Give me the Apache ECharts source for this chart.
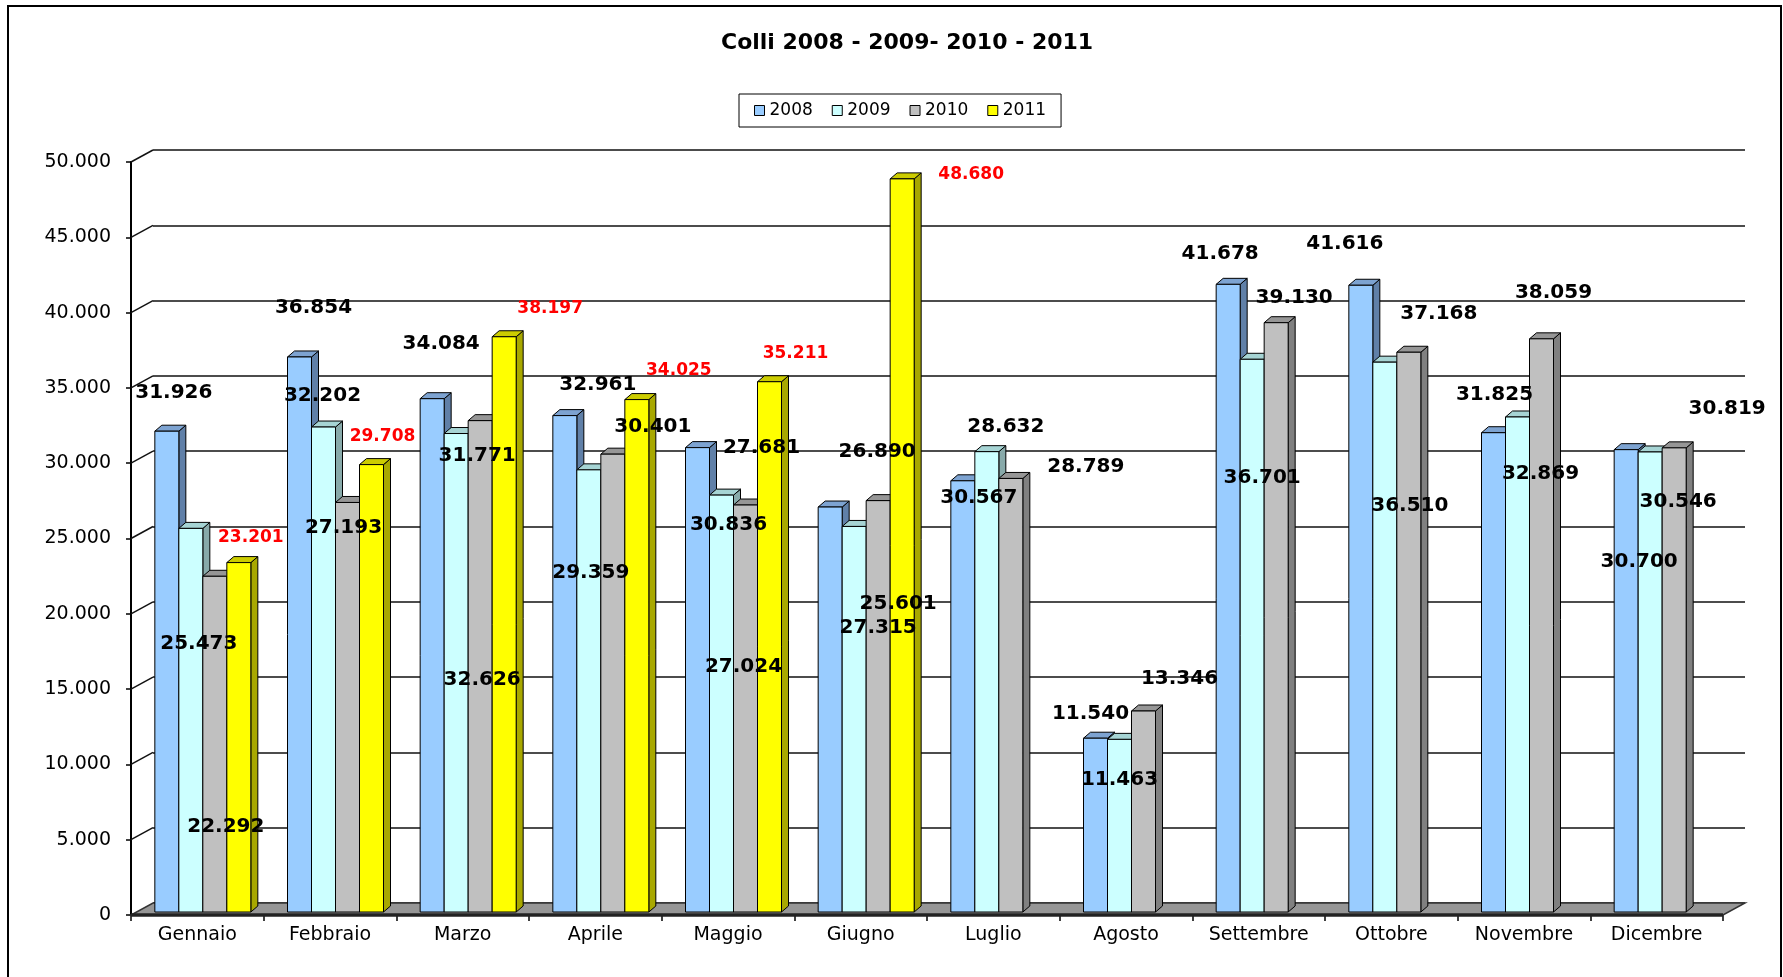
<!DOCTYPE html>
<html>
<head>
<meta charset="utf-8">
<script src="https://cdn.jsdelivr.net/npm/echarts@6.0.0/dist/echarts.min.js"></script>
<style>
html,body{margin:0;padding:0;background:#fff;}
#chart{width:1783px;height:977px;}
</style>
</head>
<body>
<div id="chart"></div>
<script>
// ---------------- DATA ----------------
const months = ['Gennaio','Febbraio','Marzo','Aprile','Maggio','Giugno','Luglio','Agosto','Settembre','Ottobre','Novembre','Dicembre'];
const seriesNames = ['2008','2009','2010','2011'];
const colli2008 = [31926, 36854, 34084, 32961, 30836, 26890, 28632, 11540, 41678, 41616, 31825, 30700];
const colli2009 = [25473, 32202, 31771, 29359, 27681, 25601, 30567, 11463, 36701, 36510, 32869, 30546];
const colli2010 = [22292, 27193, 32626, 30401, 27024, 27315, 28789, 13346, 39130, 37168, 38059, 30819];
const colli2011 = [23201, 29708, 38197, 34025, 35211, 48680, null, null, null, null, null, null];
const yMin = 0, yMax = 50000, yStep = 5000;
const titleText = 'Colli 2008 - 2009- 2010 - 2011';

// ---------------- LAYOUT / STYLE ----------------
const AX_L = 131, AX_R = 1723, AX_T = 162, AX_B = 915;
const W = 1783, H = 977;
const WALL_DX = 22, WALL_DY = -12;     // back wall offset (3D depth)
const BAR_DX = 5.5, BAR_DY = -3;        // bars sit a quarter into the depth
const BAR_W = 24, BD_X = 7, BD_Y = -6;  // bar width and bar depth
const STYLE = [
  {front:'#99CCFF', top:'#7DA3D1', side:'#6080A8', label:'#000', font:'bold 20px "DejaVu Sans"'},
  {front:'#CCFFFF', top:'#A6D4D4', side:'#88AAAA', label:'#000', font:'bold 20px "DejaVu Sans"'},
  {front:'#C0C0C0', top:'#969696', side:'#808080', label:'#000', font:'bold 20px "DejaVu Sans"'},
  {front:'#FFFF00', top:'#CCCC00', side:'#A8A800', label:'#FF0000', font:'bold 17px "DejaVu Sans"'}
];
// label placement relative to the top centre of each bar (as placed in the original)
const LABEL_NUDGE = [
  [[7,-38],[14,-49],[9,-55],[33,-31],[31,77],[47,-55],[43,-54],[-5,-24],[-8,-31],[-16,-41],[1,-38],[13,112]],
  [[8,115],[-1,-31],[21,22],[2,103],[40,-47],[44,77],[-8,46],[0,40],[10,119],[25,144],[23,57],[28,50]],
  [[11,251],[-4,25],[2,259],[40,-27],[-2,162],[0,127],[75,-12],[36,-32],[18,-25],[30,-38],[12,-46],[53,-39]],
  [[12,-25],[11,-28],[46,-28],[42,-29],[26,-28],[69,-4]]
];

function fmt(v){ return String(v).replace(/\B(?=(\d{3})+(?!\d))/g, '.'); }

const allSeries = [colli2008, colli2009, colli2010, colli2011];
const yTicks = [];
for (let t = yMin; t <= yMax; t += yStep) yTicks.push(t);

function barRenderer(s){
  return function(params, api){
    const i = api.value(0), v = api.value(1);
    const p0 = api.coord([i, 0]);
    const p1 = api.coord([i, v]);
    const x0 = p0[0] + BAR_DX + (s - 2) * BAR_W;
    const yb = p0[1] + BAR_DY, yt = p1[1] + BAR_DY;
    const c = STYLE[s];
    const bw = BAR_W;
    const n = LABEL_NUDGE[s][i] || [0,-20];
    return {
      type:'group',
      children:[
        {type:'polygon', shape:{points:[[x0+bw,yt],[x0+bw+BD_X,yt+BD_Y],[x0+bw+BD_X,yb+BD_Y],[x0+bw,yb]]},
          style:{fill:c.side, stroke:'#000', lineWidth:1}},
        {type:'polygon', shape:{points:[[x0,yt],[x0+bw,yt],[x0+bw+BD_X,yt+BD_Y],[x0+BD_X,yt+BD_Y]]},
          style:{fill:c.top, stroke:'#000', lineWidth:1}},
        {type:'rect', shape:{x:x0, y:yt, width:bw, height:yb-yt},
          style:{fill:c.front, stroke:'#000', lineWidth:1}},
        {type:'text', z2:100, x:x0 + bw/2 + n[0], y:yt + n[1],
          style:{text:fmt(v), align:'center', verticalAlign:'middle', fill:c.label, font:c.font}}
      ]
    };
  };
}

const series = [];
// floor + tick connectors
series.push({
  type:'custom', name:'_floor', xAxisIndex:0, yAxisIndex:0, z:1, silent:true, clip:false,
  data: yTicks.map(t => [0, t]),
  renderItem(params, api){
    const cs = params.coordSys;
    const t = api.value(1);
    const y = api.coord([0, t])[1];
    const x = cs.x;
    if (t === 0) {
      return {type:'group', children:[
        {type:'polygon', shape:{points:[[x,y],[x+cs.width,y],[x+cs.width+WALL_DX,y+WALL_DY],[x+WALL_DX,y+WALL_DY]]},
          style:{fill:'#969696', stroke:'#333', lineWidth:1.5}},
        {type:'line', shape:{x1:x, y1:y, x2:x+cs.width, y2:y}, style:{stroke:'#222', lineWidth:3.5}}
      ]};
    }
    return {type:'line', shape:{x1:x, y1:y, x2:x+WALL_DX, y2:y+WALL_DY}, style:{stroke:'#111', lineWidth:1.5}};
  }
});
allSeries.forEach((arr, s) => {
  const data = [];
  arr.forEach((v, i) => { if (v != null) data.push([i, v]); });
  series.push({
    type:'custom', name:seriesNames[s], xAxisIndex:0, yAxisIndex:0, z:3, clip:false,
    itemStyle:{color:STYLE[s].front, borderColor:'#000', borderWidth:1},
    encode:{x:0, y:1},
    data, renderItem: barRenderer(s)
  });
});

const chart = echarts.init(document.getElementById('chart'), null, {renderer:'canvas'});
chart.setOption({
  backgroundColor:'#fff',
  animation:false,
  title:{
    text:titleText, left:721, top:32, padding:0,
    textStyle:{fontFamily:'DejaVu Sans', fontWeight:'bold', fontSize:22, color:'#000'}
  },
  legend:{
    data:seriesNames, left:739, top:94, padding:[8,15], itemGap:19,
    icon:'rect', itemWidth:10, itemHeight:10,
    borderColor:'#000', borderWidth:1,
    itemStyle:{borderColor:'#000', borderWidth:1},
    textStyle:{fontFamily:'DejaVu Sans', fontSize:17, color:'#000'}
  },
  grid:[
    {left:AX_L, right:W-AX_R, top:AX_T, bottom:H-AX_B},
    {left:AX_L+WALL_DX, right:W-AX_R-WALL_DX, top:AX_T+WALL_DY, bottom:H-AX_B-WALL_DY}
  ],
  xAxis:[
    {type:'category', gridIndex:0, data:months, boundaryGap:true,
      axisLine:{show:false},
      axisTick:{show:true, length:6, lineStyle:{color:'#000', width:1.5}},
      axisLabel:{interval:0, margin:11, fontFamily:'DejaVu Sans', fontSize:19, color:'#000'}},
    {type:'category', gridIndex:1, data:months, show:false}
  ],
  yAxis:[
    {type:'value', gridIndex:0, min:yMin, max:yMax, interval:yStep,
      axisLine:{show:true, lineStyle:{color:'#000', width:2}},
      axisTick:{show:true, length:5, lineStyle:{color:'#000', width:1.5}},
      splitLine:{show:false},
      axisLabel:{margin:20, fontFamily:'DejaVu Sans', fontSize:19, color:'#000',
        formatter: v => v === 0 ? '0' : fmt(v)}},
    {type:'value', gridIndex:1, min:yMin, max:yMax, interval:yStep,
      axisLine:{show:false}, axisTick:{show:false}, axisLabel:{show:false},
      splitLine:{show:true, lineStyle:{color:'#111', width:1.5}}}
  ],
  graphic:[
    {type:'rect', silent:true, z:100, shape:{x:8, y:6, width:1773, height:1010},
      style:{fill:'none', stroke:'#000', lineWidth:2}}
  ],
  series
});
</script>
</body>
</html>
